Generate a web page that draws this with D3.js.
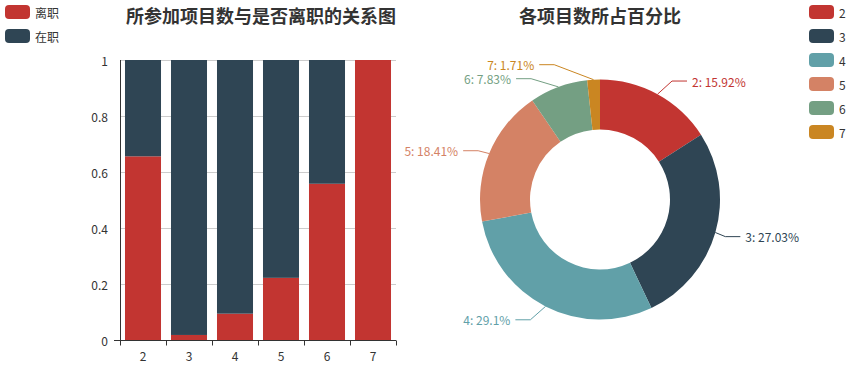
<!DOCTYPE html>
<html><head><meta charset="utf-8">
<script src="https://cdn.jsdelivr.net/npm/d3@7"></script>
<style>
html,body{margin:0;padding:0;background:#fff;}
svg{display:block;font-family:"Noto Sans CJK SC","Noto Sans",sans-serif;}
</style></head>
<body><svg id="c" width="863" height="374"></svg>
<script>
// ---- data ----
const projects = ["2","3","4","5","6","7"];
const statusNames = ["离职","在职"];
const leftRate = [0.656, 0.018, 0.094, 0.222, 0.558, 1.0];
const stayRate = [0.344, 0.982, 0.906, 0.778, 0.442, 0.0];
const yTicks = [0, 0.2, 0.4, 0.6, 0.8, 1];
const piePercent = [15.92, 27.03, 29.1, 18.41, 7.83, 1.71];
const barTitle = "所参加项目数与是否离职的关系图";
const pieTitle = "各项目数所占百分比";
const barColors = ["#c23531", "#2f4554"];
const pieColors = ["#c23531", "#2f4554", "#61a0a8", "#d48265", "#749f83", "#ca8622"];

const svg = d3.select("#c");
const textColor = "#333";

// ---- titles ----
svg.append("text").attr("x", 126).attr("y", 15).attr("dominant-baseline", "central")
  .attr("font-size", 18).attr("font-weight", "bold").attr("fill", textColor).text(barTitle);
svg.append("text").attr("x", 600).attr("y", 15).attr("dominant-baseline", "central")
  .attr("text-anchor", "middle").attr("font-size", 18).attr("font-weight", "bold").attr("fill", textColor).text(pieTitle);

// ---- bar chart ----
const x = d3.scaleBand().domain(projects).range([120, 396]).paddingInner(0.217).paddingOuter(0.1085);
const y = d3.scaleLinear().domain([0, 1]).range([340, 60]);

// gridlines
svg.append("g").selectAll("line").data(yTicks.filter(t => t > 0)).join("line")
  .attr("x1", 120).attr("x2", 396)
  .attr("y1", d => Math.round(y(d)) + 0.5).attr("y2", d => Math.round(y(d)) + 0.5)
  .attr("stroke", "#ccc").attr("stroke-width", 1);

const rows = projects.map((p, i) => ({p, left: leftRate[i], stay: stayRate[i]}));
const stack = d3.stack().keys(["left", "stay"])(rows);
svg.append("g").selectAll("g").data(stack).join("g")
  .attr("fill", (d, i) => barColors[i])
  .selectAll("rect").data(d => d).join("rect")
  .attr("x", d => x(d.data.p))
  .attr("width", x.bandwidth())
  .attr("y", d => y(d[1]))
  .attr("height", d => Math.max(0, y(d[0]) - y(d[1])));

// x axis
const xAxisG = svg.append("g");
xAxisG.append("line").attr("x1", 120).attr("x2", 396).attr("y1", 340.5).attr("y2", 340.5).attr("stroke", textColor);
const bounds = projects.map(p => x(p) - x.step() * x.paddingInner() / 2).concat([396]);
bounds[0] = 120;
xAxisG.selectAll(".tk").data(bounds).join("line")
  .attr("x1", d => Math.round(d) + 0.5).attr("x2", d => Math.round(d) + 0.5)
  .attr("y1", 340.5).attr("y2", 345.5).attr("stroke", textColor);
xAxisG.selectAll("text").data(projects).join("text")
  .attr("x", d => x(d) + x.bandwidth() / 2).attr("y", 355)
  .attr("text-anchor", "middle").attr("dominant-baseline", "central")
  .attr("font-size", 12).attr("fill", textColor).text(d => d);

// y axis
const yAxisG = svg.append("g");
yAxisG.append("line").attr("x1", 120.5).attr("x2", 120.5).attr("y1", 60).attr("y2", 341).attr("stroke", textColor);
yAxisG.selectAll("text").data(yTicks).join("text")
  .attr("x", 108).attr("y", d => y(d))
  .attr("text-anchor", "end").attr("dominant-baseline", "central")
  .attr("font-size", 12).attr("fill", textColor).text(d => d3.format("~g")(d));
yAxisG.append("line").attr("x1", 114).attr("x2", 120).attr("y1", 340.5).attr("y2", 340.5).attr("stroke", textColor);

// bar legend
const lg1 = svg.append("g").selectAll("g").data(statusNames).join("g")
  .attr("transform", (d, i) => `translate(5,${5 + i * 24})`);
lg1.append("rect").attr("width", 25).attr("height", 14).attr("rx", 4).attr("fill", (d, i) => barColors[i]);
lg1.append("text").attr("x", 30).attr("y", 7).attr("dominant-baseline", "central")
  .attr("font-size", 12).attr("fill", textColor).text(d => d);

// ---- pie ----
const cx = 600, cy = 199.5, R = 120, R0 = 70;
const pie = d3.pie().sort(null).value(d => d)(piePercent);
const arc = d3.arc().innerRadius(R0).outerRadius(R);
const pg = svg.append("g").attr("transform", `translate(${cx},${cy})`);
pg.selectAll("path").data(pie).join("path").attr("d", arc).attr("fill", (d, i) => pieColors[i]);

// label layout (ECharts-4-like)
const len = 15, len2 = 15, dist = 5, lh = 14;
const labels = pie.map((a, i) => {
  const mid = (a.startAngle + a.endAngle) / 2;
  const dx = Math.sin(mid), dy = -Math.cos(mid);
  return {
    i, dx, dy,
    x1: cx + R * dx, y1: cy + R * dy,
    x: cx + (R + len + len2 + dist) * dx, y: cy + (R + len) * dy,
    dir: dx < 0 ? -1 : 1,
    text: projects[i] + ": " + piePercent[i] + "%"
  };
});
function adjustSide(list, dir) {
  list.sort((a, b) => a.y - b.y);
  const n = list.length;
  function shiftUp(end, delta) {
    for (let j = end; j >= 0; j--) {
      list[j].y -= delta;
      if (j > 0 && list[j].y > list[j - 1].y + lh) break;
    }
  }
  function shiftDown(start, end, delta) {
    for (let j = start; j < end; j++) {
      list[j].y += delta;
      if (j > start && j + 1 < end && list[j + 1].y > list[j].y + lh) { shiftUp(j, delta / 2); return; }
    }
    shiftUp(end - 1, delta / 2);
  }
  let lastY = 0;
  for (let i = 0; i < n; i++) {
    const delta = list[i].y - lastY;
    if (delta < 0) shiftDown(i, n, -delta);
    lastY = list[i].y + lh;
  }
  const up = list.filter(l => l.y < cy), down = list.filter(l => l.y >= cy);
  function changeX(arr, isDown) {
    let last = isDown ? Number.MAX_VALUE : 0;
    arr.forEach(l => {
      const dY = Math.abs(l.y - cy);
      let dX = dY < R + len ? Math.sqrt((R + len + len2) ** 2 - dY * dY) : Math.abs(l.x - cx);
      if (isDown && dX >= last) dX = last - 10;
      if (!isDown && dX <= last) dX = last + 10;
      l.x = cx + dX * dir;
      last = dX;
    });
  }
  changeX(up, false);
  changeX(down, true);
}
adjustSide(labels.filter(l => l.dir < 0), -1);
adjustSide(labels.filter(l => l.dir > 0), 1);

const lblG = svg.append("g");
labels.forEach(l => {
  const x3 = l.x - l.dir * dist, x2 = x3 - l.dir * len2;
  lblG.append("polyline")
    .attr("points", [[l.x1, l.y1], [x2, l.y], [x3, l.y]].map(p => p.join(",")).join(" "))
    .attr("fill", "none").attr("stroke", pieColors[l.i]).attr("stroke-width", 1);
  lblG.append("text").attr("x", l.x).attr("y", l.y)
    .attr("text-anchor", l.dir < 0 ? "end" : "start").attr("dominant-baseline", "central")
    .attr("font-size", 12).attr("fill", pieColors[l.i]).text(l.text);
});

// pie legend
const lg2 = svg.append("g").selectAll("g").data(projects).join("g")
  .attr("transform", (d, i) => `translate(809,${5 + i * 24})`);
lg2.append("rect").attr("width", 25).attr("height", 14).attr("rx", 4).attr("fill", (d, i) => pieColors[i]);
lg2.append("text").attr("x", 30).attr("y", 7).attr("dominant-baseline", "central")
  .attr("font-size", 12).attr("fill", textColor).text(d => d);
</script>
</body></html>
